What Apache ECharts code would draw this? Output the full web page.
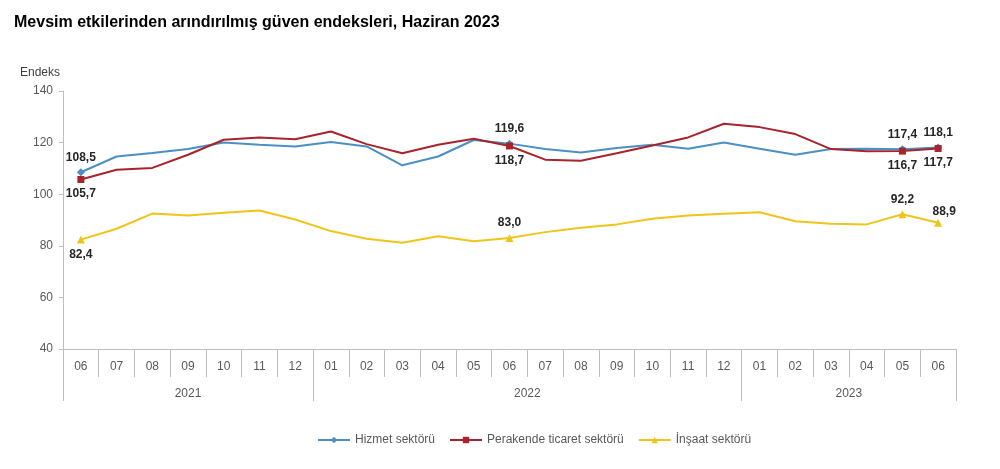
<!DOCTYPE html>
<html>
<head>
<meta charset="utf-8">
<script src="https://cdn.jsdelivr.net/npm/echarts@6/dist/echarts.min.js"></script>
<style>
html,body{margin:0;padding:0;background:#fff;}
#c{width:1000px;height:469px;}
</style>
</head>
<body>
<div id="c"></div>
<script>
var months = ['06','07','08','09','10','11','12','01','02','03','04','05','06','07','08','09','10','11','12','01','02','03','04','05','06'];
var years = ['2021','2022','2023'];
var yTicks = [40, 60, 80, 100, 120, 140];
var hizmet = [108.5,114.6,116.0,117.5,120.0,119.2,118.5,120.2,118.5,111.2,114.6,121.0,119.6,117.5,116.2,117.9,119.2,117.6,120.0,117.6,115.3,117.5,117.6,117.4,118.1];
var perakende = [105.7,109.5,110.2,115.3,121.1,122.0,121.3,124.3,119.4,115.9,119.2,121.5,118.7,113.4,113.0,115.9,118.9,122.0,127.3,126.0,123.3,117.5,116.6,116.7,117.7];
var insaat = [82.4,86.6,92.5,91.7,92.8,93.7,90.2,85.7,82.7,81.2,83.7,81.8,83.0,85.3,87.0,88.3,90.5,91.7,92.4,93.0,89.5,88.5,88.3,92.2,88.9];

// year group boundaries derived from month list
var yearStarts = [0];
months.forEach(function(m, i){ if (m === '01' && i > 0) yearStarts.push(i); });
var yearCenters = yearStarts.map(function(s, k){
  var e = k + 1 < yearStarts.length ? yearStarts[k+1] : months.length;
  return (s + e) / 2;
});

var fmt = function(v){ return v.toFixed(1).replace('.', ','); };

function buildData(values, labelCfg, sym) {
  return values.map(function(v, i){
    var cfg = labelCfg[i];
    if (!cfg) return { value: v, symbol: 'none' };
    return {
      value: v,
      symbol: sym,
      label: Object.assign({ show: true }, cfg)
    };
  });
}

var ff = 'Liberation Sans, Arial, sans-serif';
var labelStyle = { fontSize: 12, fontWeight: 'bold', color: '#262626', fontFamily: ff, formatter: function(p){ return fmt(p.value); } };

var blueLabels = { 0: {position:'top'}, 12: {position:'top'}, 23: {position:'top'}, 24: {position:'top'} };
var redLabels = { 0: {position:'bottom'}, 12: {position:'bottom'}, 23: {position:'bottom'}, 24: {position:'bottom'} };
var yelLabels = { 0: {position:'bottom'}, 12: {position:'top'}, 23: {position:'top'}, 24: {position:'top', offset:[6,4]} };

var axisGray = '#bfbfbf';
var textGray = '#595959';

var chart = echarts.init(document.getElementById('c'));
chart.setOption({
  backgroundColor: '#fff',
  animation: false,
  textStyle: { fontFamily: ff },
  title: [
    { text: 'Mevsim etkilerinden arındırılmış güven endeksleri, Haziran 2023', left: 9, top: 10,
      textStyle: { fontSize: 16, fontWeight: 'bold', color: '#000', fontFamily: ff } },
    { text: 'Endeks', left: 15, top: 62, textStyle: { fontSize: 12, fontWeight: 'normal', color: '#404040', fontFamily: ff } }
  ],
  legend: {
    left: 312, top: 429, itemWidth: 32, itemHeight: 8, itemGap: 14,
    textStyle: { fontSize: 12, color: textGray, fontFamily: ff },
    data: ['Hizmet sektörü', 'Perakende ticaret sektörü', 'İnşaat sektörü']
  },
  grid: { left: 63, right: 44, top: 91, bottom: 120 },
  xAxis: [
    {
      type: 'category', data: months, boundaryGap: true, position: 'bottom',
      axisLine: { show: true, lineStyle: { color: axisGray, width: 1 } },
      axisTick: { show: true, interval: 0, length: 28, lineStyle: { color: axisGray } },
      axisLabel: { interval: 0, margin: 12, fontSize: 12, color: textGray, fontFamily: ff },
      splitLine: { show: false }
    },
    {
      type: 'category', data: months, boundaryGap: true, position: 'bottom',
      axisLine: { show: false },
      axisTick: { show: true, length: 52, lineStyle: { color: axisGray },
        interval: function(i){ return yearStarts.indexOf(i) >= 0; } },
      axisLabel: { show: false },
      splitLine: { show: false }
    },
    {
      type: 'value', min: 0, max: months.length, interval: 0.5, position: 'bottom',
      axisLine: { show: false }, axisTick: { show: false }, splitLine: { show: false },
      axisLabel: {
        margin: 39, fontSize: 12, color: textGray, fontFamily: ff,
        formatter: function(v){
          for (var k = 0; k < yearCenters.length; k++) {
            if (Math.abs(v - yearCenters[k]) < 1e-6) return years[k];
          }
          return '';
        }
      }
    }
  ],
  yAxis: {
    type: 'value', min: yTicks[0], max: yTicks[yTicks.length-1], interval: yTicks[1] - yTicks[0],
    axisLine: { show: true, lineStyle: { color: axisGray } },
    axisTick: { show: true, length: 4, lineStyle: { color: axisGray } },
    axisLabel: { fontSize: 12, color: textGray, margin: 10, fontFamily: ff },
    splitLine: { show: false }
  },
  series: [
    {
      name: 'Hizmet sektörü', type: 'line', xAxisIndex: 0, symbol: 'diamond', symbolSize: 8,
      itemStyle: { color: '#4a90c4' }, lineStyle: { color: '#4a90c4', width: 2 },
      label: labelStyle,
      data: buildData(hizmet, blueLabels, 'diamond'), z: 3
    },
    {
      name: 'Perakende ticaret sektörü', type: 'line', xAxisIndex: 0, symbol: 'rect', symbolSize: 7,
      itemStyle: { color: '#a8232b' }, lineStyle: { color: '#a8232b', width: 2 },
      label: labelStyle,
      data: buildData(perakende, redLabels, 'rect'), z: 4
    },
    {
      name: 'İnşaat sektörü', type: 'line', xAxisIndex: 0, symbol: 'triangle', symbolSize: 8,
      itemStyle: { color: '#f0c419' }, lineStyle: { color: '#f0c419', width: 2 },
      label: labelStyle,
      data: buildData(insaat, yelLabels, 'triangle'), z: 2
    }
  ]
});
</script>
</body>
</html>
